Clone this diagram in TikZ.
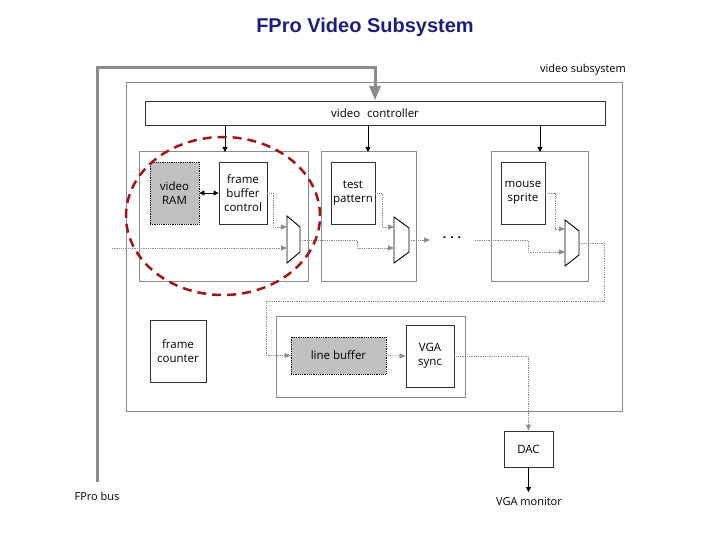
\documentclass[tikz,border=0pt]{standalone}
\usepackage{fontspec}
\setmainfont{Open Sans}
\newfontfamily\titlefont{Liberation Sans}
\usetikzlibrary{arrows.meta}
\definecolor{navy}{HTML}{1F1F7A}
\definecolor{grayline}{HTML}{8C8C8C}
\definecolor{fillg}{HTML}{C0C0C0}
\definecolor{dred}{HTML}{A31515}
\begin{document}
\begin{tikzpicture}[x=1pt,y=-1pt,
 blk/.style={draw=black!80,line width=0.8pt,fill=white,align=center,font=\fontsize{11.5}{14}\selectfont,inner sep=0pt},
 gblk/.style={blk,draw=black,densely dotted,fill=fillg},
 cont/.style={draw=grayline,line width=1pt},
 sig/.style={draw=grayline,densely dotted,line width=0.8pt},
 sarr/.style={sig,-{Triangle[width=5pt,length=6pt]}},
 carr/.style={black,line width=0.8pt,-{Triangle[width=5pt,length=5pt]}},
 mux/.style={draw=black,line width=0.9pt,fill=white},
 lab/.style={font=\fontsize{11}{13}\selectfont}]
\useasboundingbox (0,0) rectangle (720,540);
\node[font=\titlefont\bfseries\fontsize{20}{22}\selectfont,text=navy] (title) at (365,27) {FPro Video Subsystem};
% outer
\draw[cont] (126,83) rectangle (622,411);
\node[lab] (vslab) at (583,70) {video subsystem};
% bus
\coordinate (busb) at (97,482);
\coordinate (bust) at (97,68);
\coordinate (busr) at (375,68);
\draw[grayline,line width=3pt] (busb) -- (bust) -- (busr) -- (375,88);
\fill[grayline] (369,86) -- (381,86) -- (375,100) -- cycle;
\node[lab] (fprobus) at (97,496) {FPro bus};
% video controller
\node[blk,minimum width=460pt,minimum height=24pt] (vc) at (375,113) {video\,\, controller};
% modules
\draw[cont] (139,152) rectangle (308,281);
\draw[cont] (321,152) rectangle (416,281);
\draw[cont] (491,152) rectangle (588,281);
\draw[carr] (225,125) -- (225,152);
\draw[carr] (368,125) -- (368,152);
\draw[carr] (540,125) -- (540,152);
\node[gblk,minimum width=49pt,minimum height=62pt] (vram) at (174.5,193) {video\\RAM};
\node[blk,minimum width=48pt,minimum height=62pt] (fbc) at (243,193) {frame\\buffer\\control};
\node[blk,minimum width=44pt,minimum height=62pt] (tp) at (353,193) {test\\pattern};
\node[blk,minimum width=44pt,minimum height=62pt] (ms) at (523,193) {mouse\\sprite};
\draw[black,line width=0.8pt,{Triangle[width=5pt,length=5pt]}-{Triangle[width=5pt,length=5pt]}] (vram.east) -- (fbc.west);
% muxes
\draw[mux] (287,216) -- (300,227) -- (300,252) -- (287,263) -- cycle;
\draw[mux] (394,217) -- (409,228) -- (409,252) -- (394,263) -- cycle;
\draw[mux] (565,220) -- (579,231) -- (579,255) -- (565,266) -- cycle;
\coordinate (m1a) at (287,227); \coordinate (m1b) at (287,248); \coordinate (m1o) at (300,240);
\coordinate (m2a) at (394,227); \coordinate (m2b) at (394,248); \coordinate (m2o) at (409,240);
\coordinate (m3a) at (565,229); \coordinate (m3b) at (565,252); \coordinate (m3o) at (579,243);
\coordinate (in) at (112,248);
\draw[sarr] (in) -- (m1b);
\draw[sarr] (fbc.east) -| (273,227) -- (m1a);
\draw[sarr] (m1o) -- (357,240) |- (m2b);
\draw[sarr] (tp.east) -| (382,227) -- (m2a);
\draw[sarr] (m2o) -- (430,240);
\node[font=\bfseries\fontsize{12}{12}\selectfont] (dots) at (452,238) {.\,\,.\,\,.};
\draw[sarr] (475,240) -- (528,240) |- (m3b);
\draw[sarr] (ms.east) -| (555,229) -- (m3a);
% bottom
\node[blk,minimum width=56pt,minimum height=62pt] (fc) at (178,351) {frame\\counter};
\draw[cont] (276,316) rectangle (465,397);
\node[gblk,minimum width=95pt,minimum height=37pt] (lb) at (338.5,355.5) {line buffer};
\node[blk,minimum width=48pt,minimum height=62pt] (vga) at (430,356) {VGA\\sync};
\draw[sarr] (m3o) -- (604,243) |- (266,301) |- (lb.west);
\draw[sarr] (lb.east) -- (vga.west);
\node[blk,minimum width=49pt,minimum height=36pt] (dac) at (528.5,449) {DAC};
\draw[sarr] (vga.east) -| (dac.north);
\coordinate (mon) at (528.5,492);
\draw[carr] (dac.south) -- (mon);
\node[lab] (vgam) at (529,502) {VGA monitor};
% ellipse
\draw[dred,line width=2.5pt,dash pattern=on 9pt off 6pt] (223,216) ellipse [x radius=97pt,y radius=79pt];
\end{tikzpicture}
\end{document}
